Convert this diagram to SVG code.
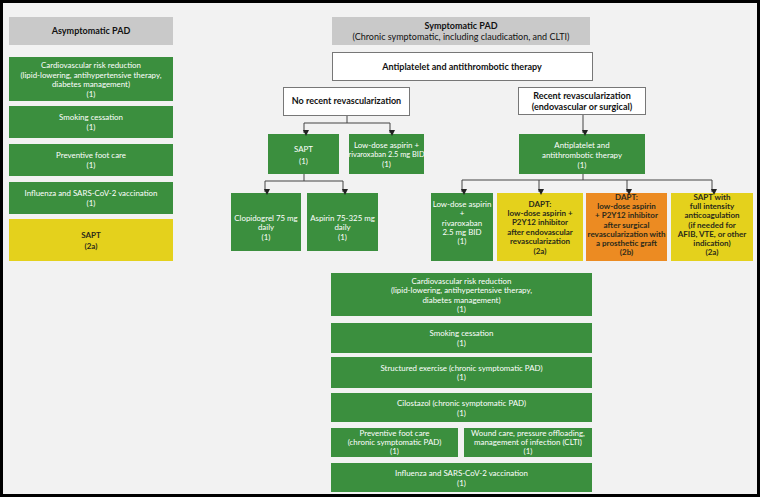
<svg xmlns="http://www.w3.org/2000/svg" width="760" height="497" viewBox="0 0 760 497">
<style>
text{font-family:Lato,"Open Sans","Liberation Sans",sans-serif;text-anchor:middle;font-size:7.9px}
.g{fill:#3b8f3e}
.y{fill:#e4d11c}
.o{fill:#ec8b22}
.h{fill:#c9c9c9}
.w{fill:#ffffff;stroke:#777;stroke-width:1}
.tw{fill:#ffffff}
.sm{font-size:7.4px}
.td{fill:#2a2a1a;font-weight:bold;font-size:8px}
.tb{fill:#111;font-weight:bold;font-size:9px}
.tr{fill:#111;font-size:9px}
.c{fill:none;stroke:#444;stroke-width:1}
</style>
<defs>
<marker id="ah" markerWidth="6" markerHeight="6" refX="3" refY="5" orient="auto-start-reverse" markerUnits="userSpaceOnUse" viewBox="0 0 6 6">
<path d="M0,0 L6,0 L3,6 Z" fill="#222" transform="rotate(-90 3 3)"/>
</marker>
</defs>
<rect x="0" y="0" width="760" height="497" fill="#f2f2f2"/>
<rect x="1.5" y="1.5" width="757" height="494" fill="none" stroke="#000" stroke-width="3"/>

<g id="asym-header"><rect class="h" x="9" y="17" width="164" height="28"/><text class="tb" x="91" y="34">Asymptomatic PAD</text></g>
<g id="asym-cardio"><rect class="g" x="9" y="57" width="164" height="44"/>
<text class="tw" x="91" y="67.7">Cardiovascular risk reduction</text>
<text class="tw" x="91" y="77.5">(lipid-lowering, antihypertensive therapy,</text>
<text class="tw" x="91" y="87.3">diabetes management)</text>
<text class="tw" x="91" y="96.7">(1)</text></g>
<g id="asym-smoking"><rect class="g" x="9" y="106" width="164" height="32"/>
<text class="tw" x="91" y="119.7">Smoking cessation</text><text class="tw" x="91" y="130.2">(1)</text></g>
<g id="asym-foot"><rect class="g" x="9" y="144" width="164" height="32"/>
<text class="tw" x="91" y="157.7">Preventive foot care</text><text class="tw" x="91" y="168.2">(1)</text></g>
<g id="asym-vacc"><rect class="g" x="9" y="182" width="164" height="32"/>
<text class="tw" x="91" y="195.7">Influenza and SARS-CoV-2 vaccination</text><text class="tw" x="91" y="206.2">(1)</text></g>
<g id="asym-sapt"><rect class="y" x="9" y="219" width="164" height="42"/>
<text class="td" x="91" y="237.7">SAPT</text><text class="td" x="91" y="249.2">(2a)</text></g>

<g id="sym-header"><rect class="h" x="332" y="17" width="258" height="28"/>
<text class="tb" x="461" y="29">Symptomatic PAD</text>
<text class="tr" x="461" y="39.5">(Chronic symptomatic, including claudication, and CLTI)</text></g>
<g id="antiplatelet"><rect class="w" x="332.5" y="52.5" width="260" height="28"/>
<text class="tb" x="462" y="70">Antiplatelet and antithrombotic therapy</text></g>
<g id="no-recent"><rect class="w" x="283.5" y="87.5" width="126" height="28"/>
<text class="tb" x="346.5" y="104.3">No recent revascularization</text></g>
<g id="recent"><rect class="w" x="518.5" y="87.5" width="127" height="27"/>
<text class="tb" x="582" y="98.8">Recent revascularization</text>
<text class="tb" x="582" y="110">(endovascular or surgical)</text></g>

<g id="sapt"><rect class="g" x="268" y="134" width="71" height="40"/>
<text class="tw" x="303.5" y="151.7">SAPT</text><text class="tw" x="303.5" y="163.7">(1)</text></g>
<g id="lowdose-riva"><rect class="g" x="349" y="134" width="75" height="40"/>
<text class="tw" x="386.5" y="147.7">Low-dose aspirin +</text>
<text class="tw sm" x="386.5" y="157">rivaroxaban 2.5 mg BID</text>
<text class="tw" x="386.5" y="166.5">(1)</text></g>
<g id="clopidogrel"><rect class="g" x="231" y="193" width="70" height="58"/>
<text class="tw" x="266" y="220.7">Clopidogrel 75 mg</text>
<text class="tw" x="266" y="229.8">daily</text>
<text class="tw" x="266" y="239.5">(1)</text></g>
<g id="aspirin"><rect class="g" x="307" y="193" width="71" height="58"/>
<text class="tw" x="342.5" y="220.7">Aspirin 75-325 mg</text>
<text class="tw" x="342.5" y="229.8">daily</text>
<text class="tw" x="342.5" y="239.5">(1)</text></g>

<g id="antiplatelet-green"><rect class="g" x="519" y="134" width="126" height="40"/>
<text class="tw" x="582" y="147.7">Antiplatelet and</text>
<text class="tw" x="582" y="157.7">antithrombotic therapy</text>
<text class="tw" x="582" y="167.7">(1)</text></g>
<g id="r-lowdose"><rect class="g" x="431" y="193" width="62" height="68"/>
<text class="tw" x="462" y="206.7">Low-dose aspirin</text>
<text class="tw" x="462" y="215.7">+</text>
<text class="tw" x="462" y="225.7">rivaroxaban</text>
<text class="tw" x="462" y="234.7">2.5 mg BID</text>
<text class="tw" x="462" y="243.7">(1)</text></g>
<g id="r-dapt-endo"><rect class="y" x="497" y="193" width="86" height="68"/>
<text class="td" x="540" y="206.7">DAPT:</text>
<text class="td" x="540" y="215.9">low-dose aspirin +</text>
<text class="td" x="540" y="225.2">P2Y12 inhibitor</text>
<text class="td" x="540" y="234.5">after endovascular</text>
<text class="td" x="540" y="243.8">revascularization</text>
<text class="td" x="540" y="253.5">(2a)</text></g>
<g id="r-dapt-surg"><rect class="o" x="586" y="193" width="81" height="68"/>
<text class="td" x="626.5" y="199.7">DAPT:</text>
<text class="td" x="626.5" y="208.9">low-dose aspirin</text>
<text class="td" x="626.5" y="218.2">+ P2Y12 inhibitor</text>
<text class="td" x="626.5" y="227.5">after surgical</text>
<text class="td" x="626.5" y="236.8">revascularization with</text>
<text class="td" x="626.5" y="246">a prosthetic graft</text>
<text class="td" x="626.5" y="255.3">(2b)</text></g>
<g id="r-sapt-anticoag"><rect class="y" x="671" y="193" width="82" height="68"/>
<text class="td" x="712" y="199.7">SAPT with</text>
<text class="td" x="712" y="208.9">full intensity</text>
<text class="td" x="712" y="218.2">anticoagulation</text>
<text class="td" x="712" y="227.5">(if needed for</text>
<text class="td" x="712" y="236.8">AFIB, VTE, or other</text>
<text class="td" x="712" y="246">indication)</text>
<text class="td" x="712" y="255.3">(2a)</text></g>

<g id="s-cardio"><rect class="g" x="331" y="273" width="261" height="43"/>
<text class="tw" x="461.5" y="283.7">Cardiovascular risk reduction</text>
<text class="tw" x="461.5" y="293.3">(lipid-lowering, antihypertensive therapy,</text>
<text class="tw" x="461.5" y="302.8">diabetes management)</text>
<text class="tw" x="461.5" y="311.8">(1)</text></g>
<g id="s-smoking"><rect class="g" x="331" y="323" width="261" height="30"/>
<text class="tw" x="461.5" y="336.2">Smoking cessation</text><text class="tw" x="461.5" y="345.7">(1)</text></g>
<g id="s-exercise"><rect class="g" x="331" y="357" width="261" height="31"/>
<text class="tw" x="461.5" y="370.5">Structured exercise (chronic symptomatic PAD)</text><text class="tw" x="461.5" y="380">(1)</text></g>
<g id="s-cilostazol"><rect class="g" x="331" y="393" width="261" height="29"/>
<text class="tw" x="461.5" y="405.5">Cilostazol (chronic symptomatic PAD)</text><text class="tw" x="461.5" y="415.5">(1)</text></g>
<g id="s-foot"><rect class="g" x="331" y="428" width="127" height="29"/>
<text class="tw" x="394.5" y="435.7">Preventive foot care</text>
<text class="tw" x="394.5" y="444.9">(chronic symptomatic PAD)</text>
<text class="tw" x="394.5" y="454.3">(1)</text></g>
<g id="s-wound"><rect class="g" x="464" y="428" width="128" height="29"/>
<text class="tw" x="528" y="435.7">Wound care, pressure offloading,</text>
<text class="tw" x="528" y="444.9">management of infection (CLTI)</text>
<text class="tw" x="528" y="454.3">(1)</text></g>
<g id="s-vacc"><rect class="g" x="331" y="463" width="261" height="29"/>
<text class="tw" x="461.5" y="475.5">Influenza and SARS-CoV-2 vaccination</text><text class="tw" x="461.5" y="485.5">(1)</text></g>

<g id="connectors">
<path class="c" d="M347,116 V123 M304,123 H390"/>
<path class="c" d="M304,123 V133" marker-end="url(#ah)"/>
<path class="c" d="M390,123 V133" marker-end="url(#ah)"/>
<path class="c" d="M304,174 V181 M265,181 H343"/>
<path class="c" d="M265,181 V192" marker-end="url(#ah)"/>
<path class="c" d="M343,181 V192" marker-end="url(#ah)"/>
<path class="c" d="M583,115 V133" marker-end="url(#ah)"/>
<path class="c" d="M583,174 V180 M462,180 H712"/>
<path class="c" d="M462,180 V192" marker-end="url(#ah)"/>
<path class="c" d="M539,180 V192" marker-end="url(#ah)"/>
<path class="c" d="M627,180 V192" marker-end="url(#ah)"/>
<path class="c" d="M712,180 V192" marker-end="url(#ah)"/>
</g>
</svg>
